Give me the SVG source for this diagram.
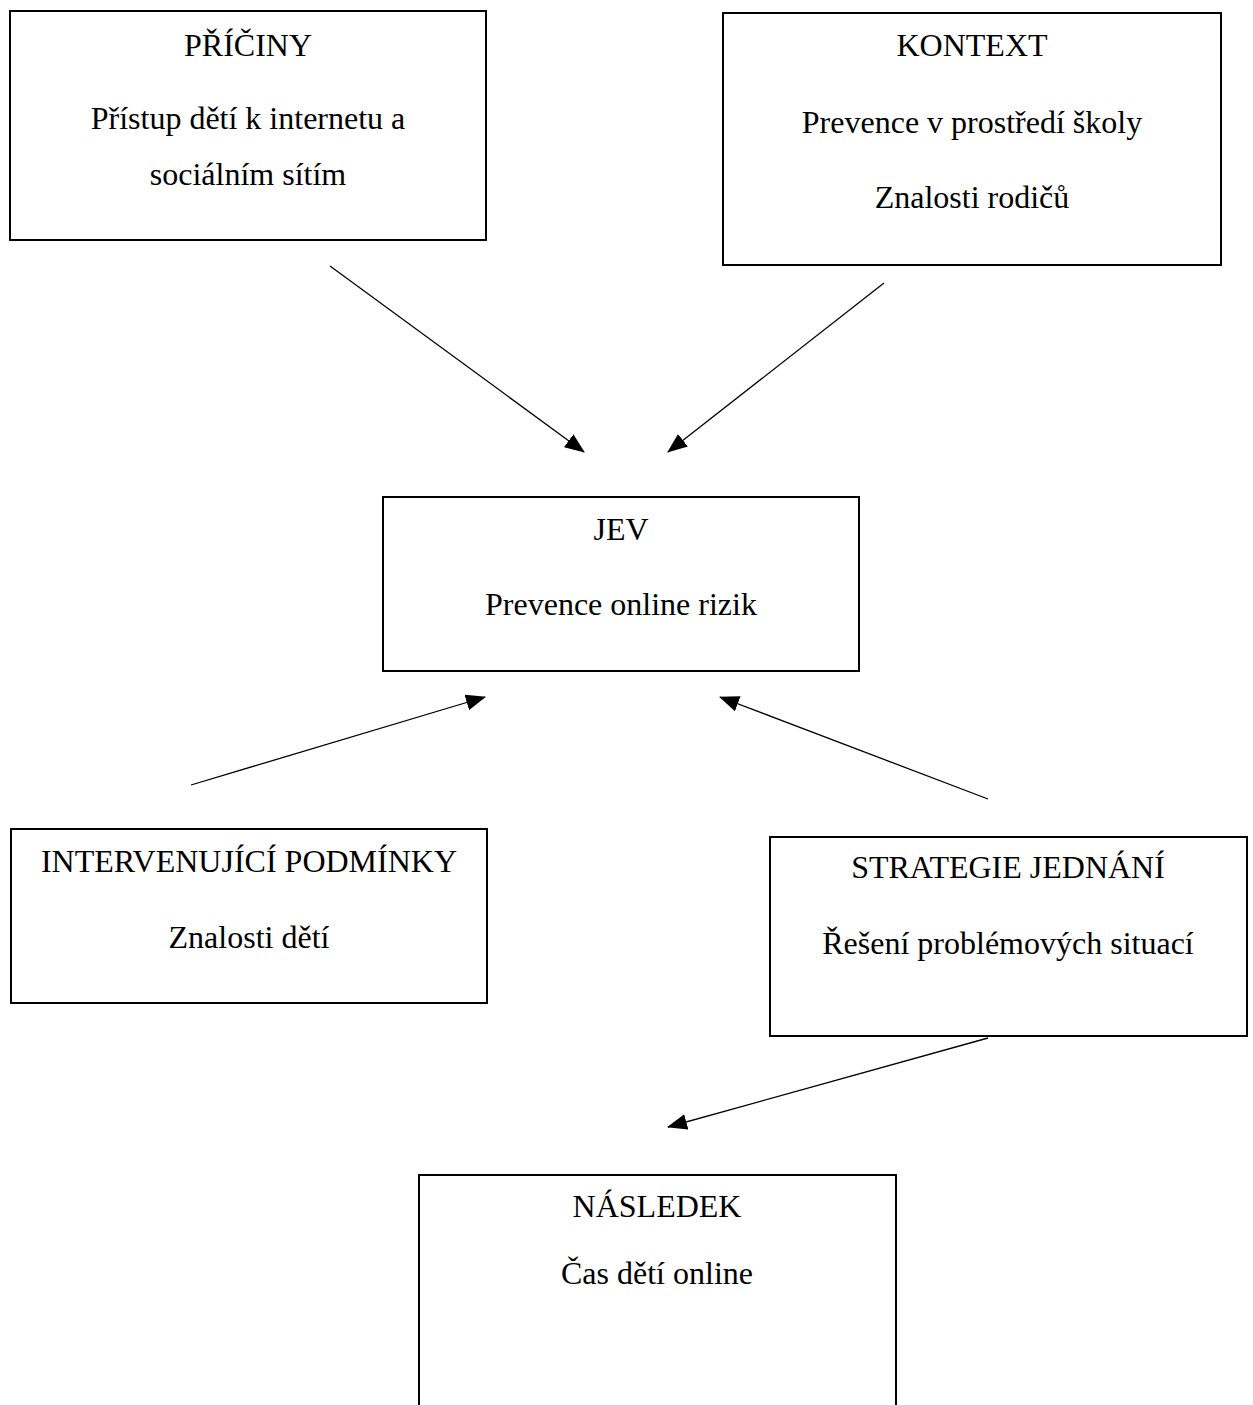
<svg xmlns="http://www.w3.org/2000/svg" width="1253" height="1405" viewBox="0 0 1253 1405">
<style>
.box{fill:#fff;stroke:#000;stroke-width:2}
.t{font-family:"Liberation Serif","Times New Roman",serif;font-size:32px;fill:#000;text-anchor:middle}
.c{stroke:#000;stroke-width:1.3;fill:none;marker-end:url(#ah)}
</style>
<defs>
<marker id="ah" viewBox="0 0 20 16" refX="19" refY="8" markerWidth="20" markerHeight="16" markerUnits="userSpaceOnUse" orient="auto">
<path d="M0,0 L20,8 L0,16 z" fill="#000"/>
</marker>
</defs>
<rect width="1253" height="1405" fill="#fff"/>
<g id="priciny">
<rect class="box" x="10" y="11" width="476" height="229"/>
<text class="t" x="248" y="56">PŘÍČINY</text>
<text class="t" x="248" y="129">Přístup dětí k internetu a</text>
<text class="t" x="248" y="185">sociálním sítím</text>
</g>
<g id="kontext">
<rect class="box" x="723" y="13" width="498" height="252"/>
<text class="t" x="972" y="56">KONTEXT</text>
<text class="t" x="972" y="133">Prevence v prostředí školy</text>
<text class="t" x="972" y="208">Znalosti rodičů</text>
</g>
<g id="jev">
<rect class="box" x="383" y="497" width="476" height="174"/>
<text class="t" x="621" y="540">JEV</text>
<text class="t" x="621" y="615">Prevence online rizik</text>
</g>
<g id="intervenujici">
<rect class="box" x="11" y="829" width="476" height="174"/>
<text class="t" x="249" y="872">INTERVENUJÍCÍ PODMÍNKY</text>
<text class="t" x="249" y="948">Znalosti dětí</text>
</g>
<g id="strategie">
<rect class="box" x="770" y="837" width="477" height="199"/>
<text class="t" x="1008" y="878">STRATEGIE JEDNÁNÍ</text>
<text class="t" x="1008" y="954">Řešení problémových situací</text>
</g>
<g id="nasledek">
<path class="box" d="M419,1410 V1175 H896 V1410"/>
<text class="t" x="657" y="1217">NÁSLEDEK</text>
<text class="t" x="657" y="1284">Čas dětí online</text>
</g>
<g id="connectors">
<line class="c" x1="330" y1="266" x2="584" y2="452"/>
<line class="c" x1="884" y1="283" x2="668" y2="452"/>
<line class="c" x1="191" y1="785" x2="485" y2="697"/>
<line class="c" x1="988" y1="799" x2="720" y2="697"/>
<line class="c" x1="988" y1="1038" x2="668" y2="1127"/>
</g>
</svg>
